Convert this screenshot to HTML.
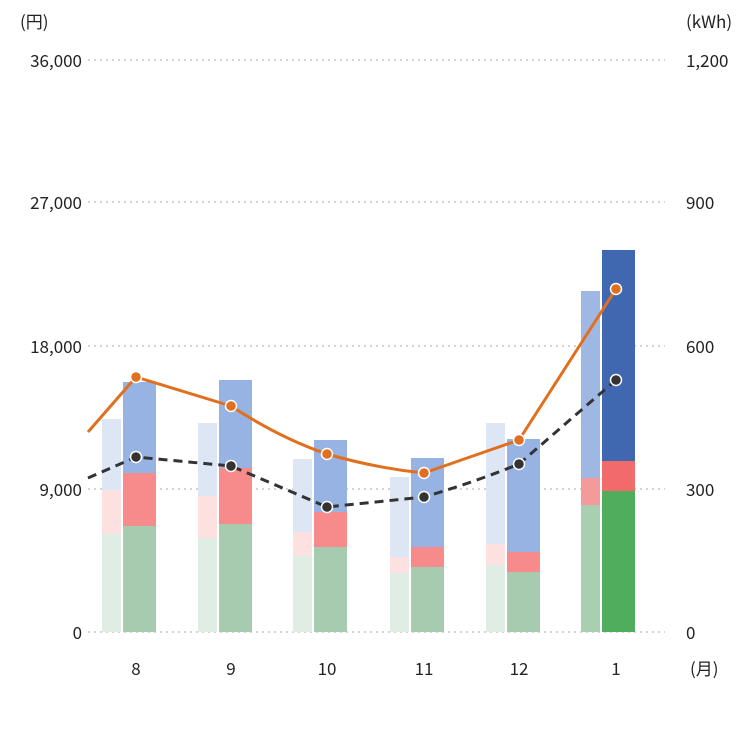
<!DOCTYPE html>
<html><head><meta charset="utf-8"><style>
body{margin:0;background:#fff}
text{font-family:"Noto Sans CJK JP","Liberation Sans",sans-serif;font-size:17px;fill:#222}
</style></head><body>
<svg width="747" height="747" viewBox="0 0 747 747">
<g stroke="#bbb" stroke-dasharray="2,4" stroke-width="1.2">
<line x1="88" x2="665" y1="60" y2="60"/><line x1="88" x2="665" y1="202" y2="202"/>
<line x1="88" x2="665" y1="346" y2="346"/><line x1="88" x2="665" y1="489" y2="489"/>
<line x1="88" x2="665" y1="632" y2="632"/></g>
<g text-anchor="end"><text x="82" y="67">36,000</text><text x="82" y="209">27,000</text><text x="82" y="353">18,000</text><text x="82" y="496">9,000</text><text x="82" y="639">0</text></g>
<g><text x="686" y="67">1,200</text><text x="686" y="209">900</text><text x="686" y="353">600</text><text x="686" y="496">300</text><text x="686" y="639">0</text></g>
<text x="20" y="28">(円)</text><text x="686" y="28">(kWh)</text>
<g text-anchor="middle"><text x="136" y="675">8</text><text x="231" y="675">9</text><text x="327" y="675">10</text><text x="424" y="675">11</text><text x="519" y="675">12</text><text x="616" y="675">1</text></g>
<text x="690" y="675">(月)</text>
<g id="bars">
<rect x="102" y="419" width="19" height="71" fill="#dde6f5"/><rect x="102" y="490" width="19" height="44" fill="#fde0e0"/><rect x="102" y="534" width="19" height="98" fill="#e0ede4"/>
<rect x="198" y="423" width="19" height="73" fill="#dde6f5"/><rect x="198" y="496" width="19" height="42" fill="#fde0e0"/><rect x="198" y="538" width="19" height="94" fill="#e0ede4"/>
<rect x="293" y="459" width="19" height="73" fill="#dde6f5"/><rect x="293" y="532" width="19" height="24" fill="#fde0e0"/><rect x="293" y="556" width="19" height="76" fill="#e0ede4"/>
<rect x="390" y="477" width="19" height="80" fill="#dde6f5"/><rect x="390" y="557" width="19" height="16" fill="#fde0e0"/><rect x="390" y="573" width="19" height="59" fill="#e0ede4"/>
<rect x="486" y="423" width="19" height="121" fill="#dde6f5"/><rect x="486" y="544" width="19" height="21" fill="#fde0e0"/><rect x="486" y="565" width="19" height="67" fill="#e0ede4"/>
<rect x="581" y="291" width="19" height="187" fill="#9fb8e3"/><rect x="581" y="478" width="19" height="27" fill="#f59a9a"/><rect x="581" y="505" width="19" height="127" fill="#a7cfb0"/>
<rect x="123" y="382" width="33" height="91" fill="#97b3e3"/><rect x="123" y="473" width="33" height="53" fill="#f78a8a"/><rect x="123" y="526" width="33" height="106" fill="#a6cbae"/>
<rect x="219" y="380" width="33" height="88" fill="#97b3e3"/><rect x="219" y="468" width="33" height="56" fill="#f78a8a"/><rect x="219" y="524" width="33" height="108" fill="#a6cbae"/>
<rect x="314" y="440" width="33" height="72" fill="#97b3e3"/><rect x="314" y="512" width="33" height="35" fill="#f78a8a"/><rect x="314" y="547" width="33" height="85" fill="#a6cbae"/>
<rect x="411" y="458" width="33" height="89" fill="#97b3e3"/><rect x="411" y="547" width="33" height="20" fill="#f78a8a"/><rect x="411" y="567" width="33" height="65" fill="#a6cbae"/>
<rect x="507" y="439" width="33" height="113" fill="#97b3e3"/><rect x="507" y="552" width="33" height="20" fill="#f78a8a"/><rect x="507" y="572" width="33" height="60" fill="#a6cbae"/>
<rect x="602" y="250" width="33" height="211" fill="#3f68b0"/><rect x="602" y="461" width="33" height="30" fill="#f26b6b"/><rect x="602" y="491" width="33" height="141" fill="#4fae5e"/>
</g>
<path d="M88,432 L136,377 L231,406 Q280,438 327,454 Q375,468 424,473 L519,440 L616,289" fill="none" stroke="#e07020" stroke-width="3" stroke-linejoin="round"/>
<path d="M88,478 L136,457 L231,466 L327,507 L424,497 Q475,482 519,464 L616,380" fill="none" stroke="#333" stroke-width="3" stroke-dasharray="9,6" stroke-linejoin="round"/>
<g fill="#e07020" stroke="#fff" stroke-width="1.5">
<circle cx="136" cy="377" r="5.5"/><circle cx="231" cy="406" r="5.5"/><circle cx="327" cy="454" r="5.5"/><circle cx="424" cy="473" r="5.5"/><circle cx="519" cy="440" r="5.5"/><circle cx="616" cy="289" r="5.5"/></g>
<g fill="#333" stroke="#fff" stroke-width="1.5">
<circle cx="136" cy="457" r="5.5"/><circle cx="231" cy="466" r="5.5"/><circle cx="327" cy="507" r="5.5"/><circle cx="424" cy="497" r="5.5"/><circle cx="519" cy="464" r="5.5"/><circle cx="616" cy="380" r="5.5"/></g>
</svg>
</body></html>
